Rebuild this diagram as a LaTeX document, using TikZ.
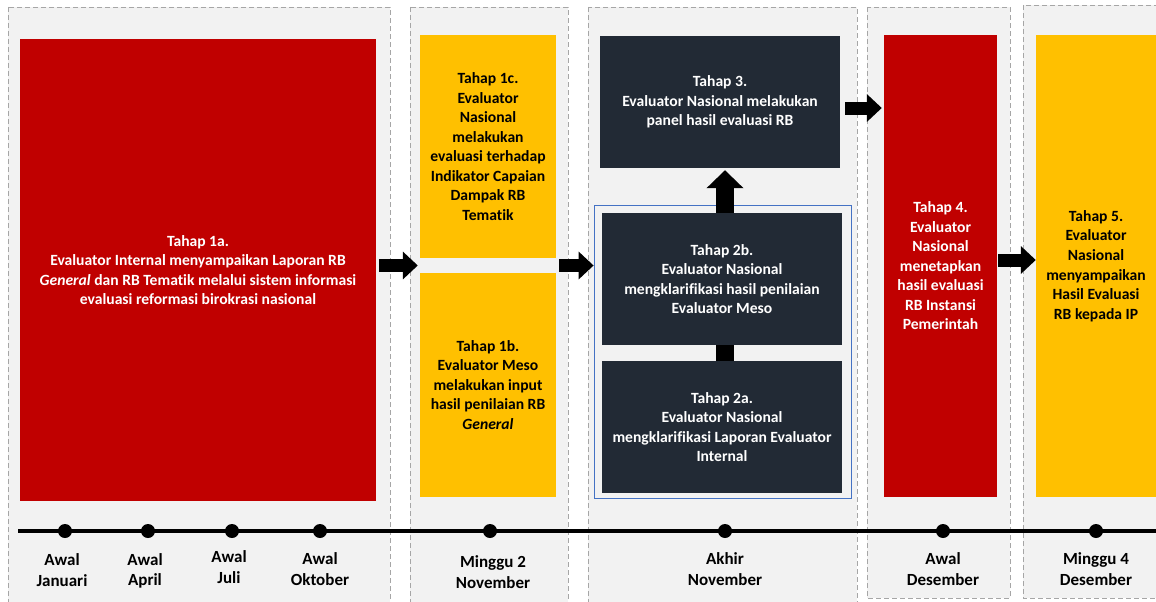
\documentclass[tikz,border=0pt]{standalone}
\usepackage{fontspec}
\setmainfont{Carlito}[Ligatures={NoCommon}]
\usetikzlibrary{arrows.meta,calc}
\definecolor{rbred}{HTML}{C00000}
\definecolor{rbyellow}{HTML}{FFC000}
\definecolor{rbdark}{HTML}{222A35}
\definecolor{panelfill}{HTML}{F2F2F2}
\definecolor{paneldash}{HTML}{A6A6A6}
\definecolor{rbblue}{HTML}{4472C4}
\tikzset{
  panel/.style={draw=paneldash, fill=panelfill, line width=0.9pt, dash pattern=on 5pt off 3pt},
  stagebox/.style={inner sep=0pt, align=center, font=\fontsize{15.6}{19.5}\selectfont\bfseries},
  redbox/.style={stagebox, fill=rbred, text=white},
  yelbox/.style={stagebox, fill=rbyellow, text=black},
  darkbox/.style={stagebox, fill=rbdark, text=white},
  harrow/.style={line width=13pt, -{Triangle[length=15pt,width=27pt]}},
  varrow/.style={line width=18pt, -{Triangle[length=18pt,width=36pt]}},
  tdot/.style={circle, fill=black, inner sep=0pt, minimum size=14pt},
  tlabel/.style={inner sep=0pt, align=center, font=\fontsize{17}{20.5}\selectfont\bfseries}
}
\begin{document}
\begin{tikzpicture}[x=1pt,y=-1pt]
\clip (0,0) rectangle (1156,602);
\fill[white] (0,0) rectangle (1156,602);
% panels
\path[panel] (8,7) rectangle (390,612);
\path[panel] (410,7) rectangle (568,612);
\path[panel] (588,7) rectangle (857,612);
\path[panel] (867,7) rectangle (1010,598);
\path[panel] (1023,5) rectangle (1170,598);
% timeline
\coordinate (tl0) at (18,531);
\coordinate (tl1) at (1156,531);
\draw[line width=4pt] (tl0) -- (tl1);
\node[tdot] (d1) at (65,531) {};
\node[tdot] (d2) at (148,531) {};
\node[tdot] (d3) at (232,531) {};
\node[tdot] (d4) at (320,531) {};
\node[tdot] (d5) at (490,531) {};
\node[tdot] (d6) at (725,531) {};
\node[tdot] (d7) at (943,531) {};
\node[tdot] (d8) at (1096,531) {};
\node[tlabel] (l1) at (62,570) {Awal\\Januari};
\node[tlabel] (l2) at (145,571) {Awal\\April};
\node[tlabel] (l3) at (229,567) {Awal\\Juli};
\node[tlabel] (l4) at (320,569) {Awal\\Oktober};
\node[tlabel] (l5) at (493,572) {Minggu 2\\November};
\node[tlabel] (l6) at (725,569) {Akhir\\November};
\node[tlabel] (l7) at (943,569) {Awal\\Desember};
\node[tlabel] (l8) at (1096,569) {Minggu 4\\Desember};
% boxes
\node[redbox, minimum width=356pt, minimum height=462pt] (a1) at (198,270)
  {Tahap 1a.\\Evaluator Internal menyampaikan Laporan RB\\\textit{General} dan RB Tematik melalui sistem informasi\\evaluasi reformasi birokrasi nasional};
\node[yelbox, minimum width=136pt, minimum height=223pt] (c1) at (488,146.5)
  {Tahap 1c.\\Evaluator\\Nasional\\melakukan\\evaluasi terhadap\\Indikator Capaian\\Dampak RB\\Tematik};
\node[yelbox, minimum width=136pt, minimum height=224pt] (b1) at (488,385)
  {Tahap 1b.\\Evaluator Meso\\melakukan input\\hasil penilaian RB\\\textit{General}};
\node[darkbox, minimum width=240pt, minimum height=132pt] (t3) at (720,102)
  {Tahap 3.\\Evaluator Nasional melakukan\\panel hasil evaluasi RB};
\node[draw=rbblue, line width=0.8pt, minimum width=257pt, minimum height=293pt, inner sep=0pt] (blue) at (722.5,351.5) {};
\node[darkbox, minimum width=240pt, minimum height=132pt] (b2) at (722,279)
  {Tahap 2b.\\Evaluator Nasional\\mengklarifikasi hasil penilaian\\Evaluator Meso};
\node[darkbox, minimum width=240pt, minimum height=132pt] (a2) at (722,427)
  {Tahap 2a.\\Evaluator Nasional\\mengklarifikasi Laporan Evaluator\\Internal};
\node[redbox, minimum width=113pt, minimum height=462pt] (r4) at (940.5,266)
  {Tahap 4.\\Evaluator\\Nasional\\menetapkan\\hasil evaluasi\\RB Instansi\\Pemerintah};
\node[yelbox, minimum width=120pt, minimum height=462pt] (y5) at (1096,266)
  {Tahap 5.\\Evaluator\\Nasional\\menyampaikan\\Hasil Evaluasi\\RB kepada IP};
% arrows
\coordinate (g) at ($(c1.south)!0.5!(b1.north)$);
\draw[harrow] ($(a1.east |- g)+(3,0)$) -- ($(c1.west |- g)+(-2,0)$);
\draw[harrow] ($(c1.east |- g)+(3,0)$) -- (blue.west |- g);
\draw[varrow] ($(b2.north)+(3,0)$) -- ($(t3.south)+(5,2)$);
\draw[line width=18pt] ($(a2.north)+(3,0)$) -- ($(b2.south)+(3,0)$);
\draw[harrow] ($(t3.east)+(5,6)$) -- ($(r4.west |- t3.east)+(-2,6)$);
\draw[harrow] ($(r4.east)+(1,-6)$) -- ($(y5.west)+(0,-6)$);
\end{tikzpicture}
\end{document}
